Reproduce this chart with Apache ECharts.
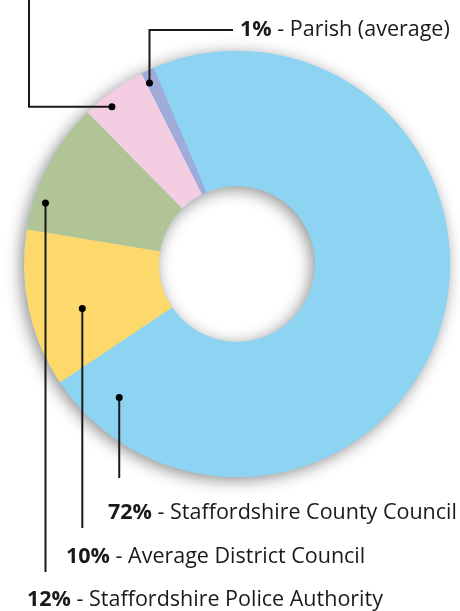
<!DOCTYPE html>
<html>
<head>
<meta charset="utf-8">
<script src="https://cdn.jsdelivr.net/npm/echarts@6/dist/echarts.min.js"></script>
<style>
html,body{margin:0;padding:0;background:#fff;}
#main{width:460px;height:611px;}
</style>
</head>
<body>
<div id="main"></div>
<script>
// share of the bill, clockwise from the top
var names = ['Staffordshire County Council', 'Staffordshire Police Authority', 'Average District Council', 'Staffordshire Fire Authority', 'Parish (average)'];
var values = [72, 12, 10, 5, 1];
var colors = ['#8dd4f3', '#fdd96c', '#b1c496', '#f5cde2', '#9fabd9'];

// where the marker dot sits inside each slice: [fraction of slice angle, radius px]
var dotPlace = [[0.943, 178], [0.41, 161], [0.23, 201], [0.34, 201], [0.22, 201]];
// the bottom rows, top to bottom: whose text is printed there (as in the original)
var rowText = [0, 2, 1];

var FONT = '"Open Sans", sans-serif';
var FS = 21.5;
var CX = 237, CY = 264, R0 = 78, R = 213;

var chart = echarts.init(document.getElementById('main'));

chart.setOption({
	animation: false,
	series: [
		//只画阴影的底环
		{
			type: 'pie', silent: true, z: 1,
			center: [CX, CY], radius: [R0, R],
			label: {show: false}, labelLine: {show: false},
			itemStyle: {color: '#8dd4f3', borderWidth: 0, shadowBlur: 16, shadowColor: 'rgba(0,0,0,0.45)', shadowOffsetX: -3, shadowOffsetY: 3},
			data: [1]
		},
		{
			type: 'pie', silent: true, z: 2,
			center: [CX, CY], radius: [R0, R],
			startAngle: 113, clockwise: true,
			label: {show: false}, labelLine: {show: false},
			itemStyle: {borderWidth: 0},
			data: values.map(function (v, i) {
				return {name: names[i], value: v, itemStyle: {color: colors[i]}};
			})
		}
	]
});

var pieData = chart.getModel().getSeriesByIndex(1).getData();
function dotPos(i) {
	var l = pieData.getItemLayout(i);
	var a = l.startAngle + (l.endAngle - l.startAngle) * dotPlace[i][0];
	return [l.cx + dotPlace[i][1] * Math.cos(a), l.cy + dotPlace[i][1] * Math.sin(a)];
}
function labelText(i) {
	return '{b|' + values[i] + '%} - ' + names[i];
}
function textEl(i, x, y, align) {
	return {
		type: 'text', z: 10, silent: true,
		style: {
			text: labelText(i), x: x, y: y,
			align: align || 'left', verticalAlign: 'middle',
			font: FS + 'px ' + FONT, fill: '#1a1a1a',
			rich: {b: {font: 'bold ' + FS + 'px ' + FONT, fill: '#1a1a1a'}}
		}
	};
}
function lineEl(points) {
	return {type: 'polyline', z: 10, silent: true, shape: {points: points}, style: {stroke: '#1a1a1a', lineWidth: 2, fill: null}};
}

var graphics = [];
var dots = values.map(function (v, i) { return dotPos(i); });

// bottom rows: vertical drop from the dot
var rowEndY = [478, 528, 572];
var rowTextX = [108, 66, 27];
var rowTextY = [513, 557, 600];
for (var k = 0; k < 3; k++) {
	graphics.push(lineEl([dots[k], [dots[k][0], rowEndY[k]]]));
	graphics.push(textEl(rowText[k], rowTextX[k], rowTextY[k]));
}
// fire authority: left, then up off the top
graphics.push(lineEl([dots[3], [29, dots[3][1]], [29, -20]]));
graphics.push(textEl(3, 222, -11, 'right'));
// parish: up, then right
graphics.push(lineEl([dots[4], [dots[4][0], 30], [233, 30]]));
graphics.push(textEl(4, 240, 30));

dots.forEach(function (p) {
	graphics.push({type: 'circle', z: 11, silent: true, shape: {cx: p[0], cy: p[1], r: 3.5}, style: {fill: '#000'}});
});

chart.setOption({graphic: graphics});
</script>
</body>
</html>
